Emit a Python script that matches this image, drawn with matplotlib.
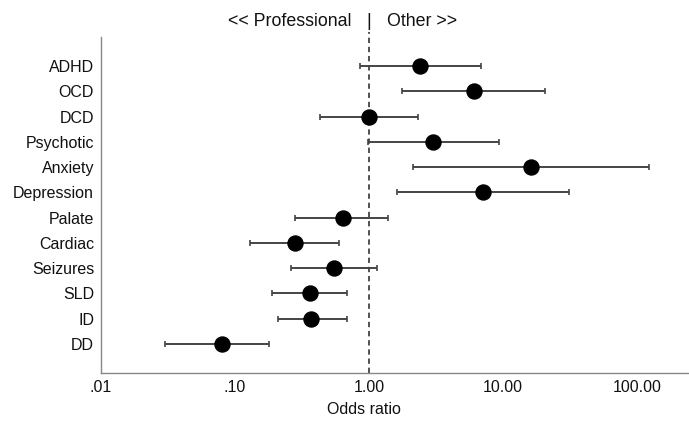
import matplotlib
matplotlib.use("Agg")
import matplotlib.pyplot as plt
from matplotlib.transforms import blended_transform_factory

plt.rcParams['font.family'] = ['Liberation Sans', 'DejaVu Sans']

categories = ["ADHD", "OCD", "DCD", "Psychotic", "Anxiety", "Depression",
              "Palate", "Cardiac", "Seizures", "SLD", "ID", "DD"]
odds_ratio = [2.40, 6.04, 1.00, 3.02, 16.1, 7.05, 0.64, 0.28, 0.55, 0.36, 0.37, 0.080]
ci_low = [0.85, 1.77, 0.43, 0.98, 2.13, 1.61, 0.28, 0.13, 0.26, 0.19, 0.21, 0.030]
ci_high = [6.89, 20.6, 2.33, 9.39, 123.0, 31.1, 1.38, 0.60, 1.15, 0.69, 0.69, 0.18]
tick_values = [0.01, 0.1, 1, 10, 100]
tick_labels = [".01", ".10", "1.00", "10.00", "100.00"]

W, H = 689, 425
fig = plt.figure(figsize=(W / 100, H / 100), dpi=100)
ax = fig.add_axes([101 / W, 52 / H, (689 - 101) / W, (373 - 37) / H])

ypos = list(range(len(categories)))
xerr_lo = [o - l for o, l in zip(odds_ratio, ci_low)]
xerr_hi = [h - o for o, h in zip(odds_ratio, ci_high)]

ax.axvline(1.0, ymin=0, ymax=1.015, color="#222222", lw=1.1, ls=(0, (3.5, 2.5)),
           zorder=1, clip_on=False)
ax.errorbar(odds_ratio, ypos, xerr=[xerr_lo, xerr_hi], fmt="o", color="black",
            ecolor="#444444", elinewidth=1.4, capsize=2.3, capthick=1.2,
            markersize=10.8, zorder=3)

ax.set_xscale("log")
ax.set_xlim(0.01, 244)
ax.set_ylim(12.15, -1.15)
ax.set_xticks(tick_values)
ax.set_xticklabels(tick_labels)
ax.minorticks_off()
ax.set_yticks(ypos)
ax.set_yticklabels(categories)
ax.tick_params(axis="both", length=0, labelsize=11.5, colors="#111111")
ax.tick_params(axis="x", pad=5)
ax.tick_params(axis="y", pad=5)

for s in ["top", "right"]:
    ax.spines[s].set_visible(False)
for s in ["left", "bottom"]:
    ax.spines[s].set_color("#888888")
    ax.spines[s].set_linewidth(1.0)

fig.text(364 / W, 1 - 410 / H, "Odds ratio", ha="center", va="center",
         fontsize=11.5, color="#111111")

tr = blended_transform_factory(ax.transData, fig.transFigure)
ty = 1 - 22 / H
ax.annotate("<< Professional", xy=(1.0, ty), xycoords=tr, xytext=(-12.5, 0),
            textcoords="offset points", ha="right", va="center", fontsize=12.8,
            color="#111111", annotation_clip=False)
ax.annotate("|", xy=(1.0, ty), xycoords=tr, xytext=(0, 0),
            textcoords="offset points", ha="center", va="center", fontsize=12.8,
            color="#111111", annotation_clip=False)
ax.annotate("Other >>", xy=(1.0, ty), xycoords=tr, xytext=(13, 0),
            textcoords="offset points", ha="left", va="center", fontsize=12.8,
            color="#111111", annotation_clip=False)

fig.savefig("out.png", dpi=100)
